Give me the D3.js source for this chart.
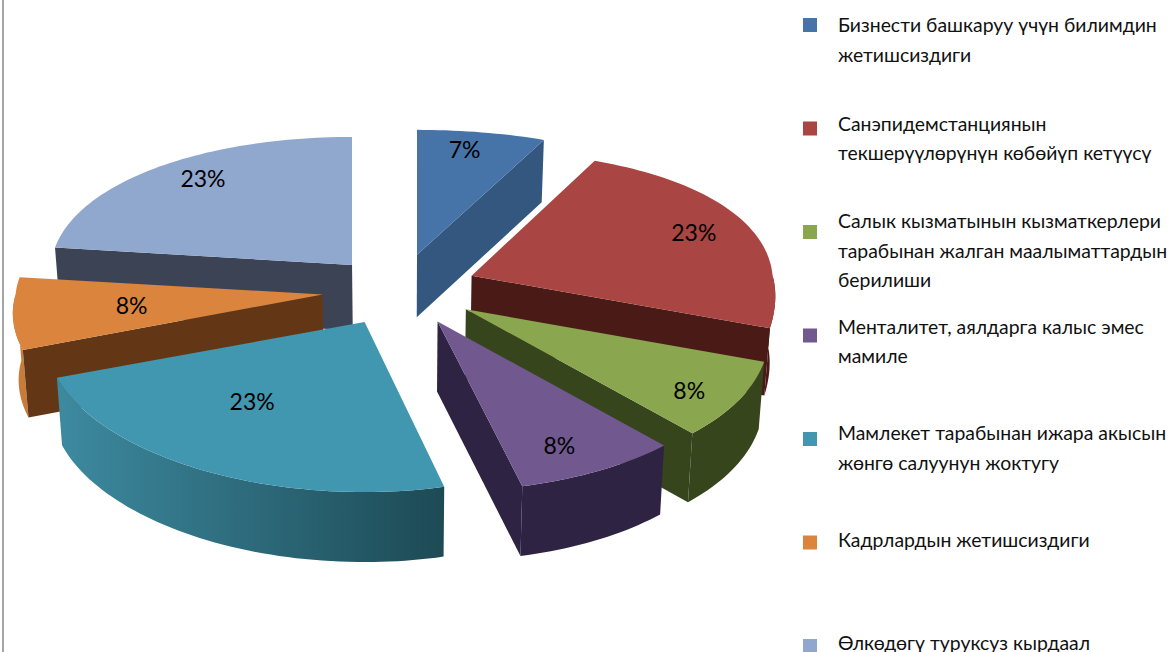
<!DOCTYPE html>
<html>
<head>
<meta charset="utf-8">
<script src="https://cdn.jsdelivr.net/npm/d3@7"></script>
<style>
  html, body { margin: 0; padding: 0; background: #fff; overflow: hidden; }
  text { font-family: Lato, "Open Sans", "Noto Sans", sans-serif; fill: #111; }
</style>
</head>
<body>
<div id="chart"></div>
<script>
const categories = [
  ["Бизнести башкаруу үчүн билимдин", "жетишсиздиги"],
  ["Санэпидемстанциянын", "текшерүүлөрүнүн көбөйүп кетүүсү"],
  ["Салык кызматынын кызматкерлери", "тарабынан жалган маалыматтардын", "берилиши"],
  ["Менталитет, аялдарга калыс эмес", "мамиле"],
  ["Мамлекет тарабынан ижара акысын", "жөнгө салуунун жоктугу"],
  ["Кадрлардын жетишсиздиги"],
  ["Өлкөдөгү туруксуз кырдаал"],
];
const values = [7, 23, 8, 8, 23, 8, 23];

const topColors = ["#4674a8", "#a94543", "#8aa64e", "#71588f", "#4197af", "#db843d", "#90a7ce"];
const cutColors = ["#33577f", "#4a1a16", "#37451c", "#2e2343", "#1e4a55", "#633715", "#3c4355"];
const rimLeft = ["#33577f", "#4a1a16", "#37451c", "#2e2343", "#3d8aa0", "#c97c3a", "#3c4355"];
const rimRight = ["#33577f", "#4a1a16", "#37451c", "#2e2343", "#1d4a55", "#c97c3a", "#3c4355"];

// hand tuned per slice, the original is not a perfectly regular projection
const explodeScale = [1, 1, 1, 1, 1, 1, 0.93];
const leftStretch = [1, 1, 1, 1, 1.047, 1.02, 1];
const rightStretch = [1.03, 1, 1, 1, 0.94, 1, 1];
const labelRadius = [0.78, 0.8, 0.83, 0.8, 0.62, 0.62, 0.8];
const labelNudge = [[-3, -10], [5, 0], [-3, 5], [-8, 4], [-13, -13], [1, -1], [5, -8]];
const legendBaseline = [14, 9, 3, 5, 8, 11, 11];

const WIDTH = 1172;
const HEIGHT = 652;
const CX = 400;
const CY = 290;
const EXPLODE_X = 78;
const EXPLODE_Y = 36;
const LEGEND_LINE = 29.5;

const svg = d3
  .select("#chart")
  .append("svg")
  .attr("width", WIDTH)
  .attr("height", HEIGHT);

svg
  .append("line")
  .attr("x1", 3)
  .attr("x2", 3)
  .attr("y1", 0)
  .attr("y2", HEIGHT)
  .attr("stroke", "#a6a6a6")
  .attr("stroke-width", 2);

// radii and wall height grow toward the viewer, cos of the angle is the depth
const rx = d3.scaleLinear().domain([1, 0, -1]).range([288, 301, 342]);
const ryRight = d3.scaleLinear().domain([1, 0, -0.31, -1]).range([125, 146, 170, 170]);
const ryLeft = d3.scaleLinear().domain([1, 0, -1]).range([128, 140, 170]);
const wall = d3.scaleLinear().domain([1, -1]).range([62, 70]);

const slices = d3
  .pie()
  .sort(null)
  .value((d) => d)(values)
  .map((d, i) => {
    const mid = (d.startAngle + d.endAngle) / 2;
    return {
      ...d,
      i,
      mid,
      ax: CX + EXPLODE_X * explodeScale[i] * Math.sin(mid),
      ay: CY - EXPLODE_Y * explodeScale[i] * Math.cos(mid),
    };
  });

function topPoint(s, a, f = 1) {
  const c = Math.cos(a);
  const sn = Math.sin(a);
  const stretch = sn < 0 ? leftStretch[s.i] : rightStretch[s.i];
  const ry = sn < 0 ? ryLeft(c) : ryRight(c);
  return [s.ax + f * rx(c) * sn * stretch, s.ay - f * ry * c];
}

function bottomPoint(s, a, f = 1) {
  const [x, y] = topPoint(s, a, f);
  return [CX + (x - CX) * 0.985, y + wall(Math.cos(a))];
}

function arcAngles(a0, a1) {
  const n = Math.max(2, Math.ceil((a1 - a0) * 40));
  return d3.range(n + 1).map((k) => a0 + ((a1 - a0) * k) / n);
}

const line = d3.line();
const defs = svg.append("defs");

slices.forEach((s) => {
  const grad = defs
    .append("linearGradient")
    .attr("id", `rim-${s.i}`)
    .attr("gradientUnits", "objectBoundingBox");
  grad.append("stop").attr("offset", 0).attr("stop-color", rimLeft[s.i]);
  grad.append("stop").attr("offset", 1).attr("stop-color", rimRight[s.i]);
});

// back slices first so the front ones paint over them
const drawOrder = slices.slice().sort((a, b) => Math.cos(b.mid) - Math.cos(a.mid));

drawOrder.forEach((s) => {
  const g = svg.append("g").attr("id", `slice-${s.i}`);
  const a0 = s.startAngle;
  const a1 = s.endAngle;

  // curved outer wall, only the part facing the viewer
  const r0 = Math.max(a0, Math.PI / 2);
  const r1 = Math.min(a1, (3 * Math.PI) / 2);
  if (r1 > r0) {
    const angles = arcAngles(r0, r1);
    const pts = angles
      .map((a) => topPoint(s, a))
      .concat(angles.slice().reverse().map((a) => bottomPoint(s, a)));
    g.append("path").attr("d", line(pts) + "Z").attr("fill", `url(#rim-${s.i})`);
  }

  // straight cut faces
  const cuts = [];
  if (Math.sin(a0) < -1e-6) cuts.push(a0);
  if (Math.sin(a1) > 1e-6) cuts.push(a1);
  cuts.forEach((a) => {
    const pts = [
      topPoint(s, a, 0),
      topPoint(s, a),
      bottomPoint(s, a),
      bottomPoint(s, a, 0),
    ];
    g.append("path").attr("d", line(pts) + "Z").attr("fill", cutColors[s.i]);
  });

  const topPts = [topPoint(s, a0, 0)].concat(arcAngles(a0, a1).map((a) => topPoint(s, a)));
  g.append("path").attr("d", line(topPts) + "Z").attr("fill", topColors[s.i]);
});

slices.forEach((s) => {
  const [x, y] = topPoint(s, s.mid, labelRadius[s.i]);
  svg
    .append("text")
    .attr("x", x + labelNudge[s.i][0])
    .attr("y", y + labelNudge[s.i][1])
    .attr("text-anchor", "middle")
    .attr("dominant-baseline", "central")
    .attr("font-size", 23)
    .style("fill", "#000")
    .text(`${values[s.i]}%`);
});

const legendY = d3
  .scalePoint()
  .domain(d3.range(categories.length))
  .range([18, 639]);

categories.forEach((lines, i) => {
  svg
    .append("rect")
    .attr("x", 803)
    .attr("y", legendY(i))
    .attr("width", 14)
    .attr("height", 14)
    .attr("fill", topColors[i]);
  lines.forEach((txt, k) => {
    svg
      .append("text")
      .attr("x", 838)
      .attr("y", legendY(i) + legendBaseline[i] + k * LEGEND_LINE)
      .attr("font-size", 19.4)
      .text(txt);
  });
});
</script>
</body>
</html>
